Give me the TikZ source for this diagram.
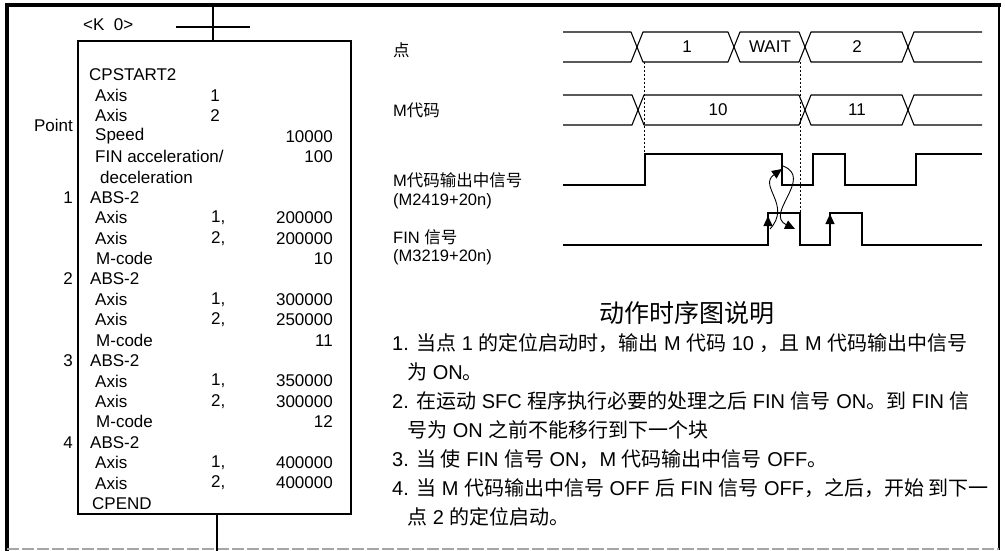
\documentclass[tikz,border=0pt]{standalone}
\usepackage{fontspec}
\setmainfont{Liberation Sans}
\newfontfamily\cjk{Noto Sans CJK SC}
\usetikzlibrary{arrows.meta}
\newcommand\zh[1]{{\cjk #1}}
\begin{document}
\begin{tikzpicture}[x=1pt,y=-1pt,
  prog/.style={anchor=west,inner sep=0pt,font=\fontsize{17}{19}\selectfont},
  progr/.style={anchor=east,inner sep=0pt,font=\fontsize{17}{19}\selectfont},
  progc/.style={anchor=center,inner sep=0pt,font=\fontsize{17}{19}\selectfont},
  lbl/.style={anchor=west,inner sep=0pt,font=\fontsize{16.5}{19}\selectfont},
  wtxt/.style={anchor=center,inner sep=0pt,font=\fontsize{17}{19}\selectfont},
  item/.style={anchor=west,inner sep=0pt,font=\fontsize{20}{24}\selectfont},
  bus/.style={line width=1.1pt,line join=round},
  sig/.style={line width=1.8pt,line join=miter},
  guide/.style={line width=0.6pt,dash pattern=on 2pt off 2pt},
  tri/.style={-{Triangle[length=10pt,width=9pt]}},
  curve/.style={line width=0.9pt,-{Triangle[length=10pt,width=9pt]}}
]
\useasboundingbox (0,0) rectangle (1005,551);
% outer frame
\draw[line width=4pt] (5,5) -- (1001,5);
\draw[line width=4pt] (7,3) -- (7,551);
\draw[line width=1.8pt] (999,4) -- (999,550);
\draw[gray!70,line width=1.5pt,dash pattern=on 12pt off 3pt] (7,549) -- (999,549);
% ladder lines
\draw[line width=1.2pt] (213,5) -- (213,41);
\draw[line width=1.2pt] (176,27) -- (250,27);
\draw[line width=1.2pt] (217,514) -- (217,551);
\node[prog] (k0) at (83,25) {<K\ \ 0>};
% program box
\draw[line width=1.4pt] (78,41) rectangle (351,514);
% program text
\node[prog] (r0) at (89,75) {CPSTART2};
\foreach \i/\x/\t in {1/95/Axis,2/95/Axis,3/95/Speed,5/100/deceleration,
  6/90/ABS-2,7/95/Axis,8/95/Axis,9/96/M-code,
  10/90/ABS-2,11/95/Axis,12/95/Axis,13/96/M-code,
  14/90/ABS-2,15/95/Axis,16/95/Axis,17/96/M-code,
  18/90/ABS-2,19/95/Axis,20/95/Axis,21/92/CPEND}
  \node[prog] (r\i) at (\x,{75+20.4*\i}) {\t};
\node[prog] (r4) at (95,{75+20.4*4}) {FIN acceleration/};
% axis numbers
\node[progc] (a1) at (215,{75+20.4*1}) {1};
\node[progc] (a2) at (215,{75+20.4*2}) {2};
\foreach \i/\t in {7/1,8/2,11/1,12/2,15/1,16/2,19/1,20/2}
  \node[prog] (c\i) at (211,{75+20.4*\i}) {\t,};
% values
\foreach \i/\t in {3/10000,4/100,7/200000,8/200000,9/10,11/300000,12/250000,13/11,
  15/350000,16/300000,17/12,19/400000,20/400000}
  \node[progr] (v\i) at (333,{75+20.4*\i}) {\t};
% point labels
\node[progr] (pt) at (73,125) {Point};
\foreach \i/\t in {6/1,10/2,14/3,18/4}
  \node[progr] (pn\t) at (73,{75+20.4*\i}) {\t};
% signal labels
\node[lbl] (l1) at (393,50) {\zh{点}};
\node[lbl] (l2) at (393,110) {M\zh{代码}};
\node[lbl] (l3) at (393,180) {M\zh{代码输出中信号}};
\node[lbl] (l3b) at (393,201) {(M2419+20n)};
\node[lbl] (l4) at (393,237) {FIN \zh{信号}};
\node[lbl] (l4b) at (393,257) {(M3219+20n)};
% row 1 bus
\draw[bus] (563,32) -- (631,32) -- (643,62) -- (728,62) -- (740,32) -- (799,32) -- (811,62) -- (902,62) -- (914,32) -- (982,32);
\draw[bus] (563,62) -- (631,62) -- (643,32) -- (728,32) -- (740,62) -- (799,62) -- (811,32) -- (902,32) -- (914,62) -- (982,62);
\node[wtxt] (w1) at (687,47) {1};
\node[wtxt] (w2) at (770,47) {WAIT};
\node[wtxt] (w3) at (857,47) {2};
% row 2 bus
\draw[bus] (563,95) -- (632,95) -- (644,125) -- (799,125) -- (811,95) -- (902,95) -- (914,125) -- (982,125);
\draw[bus] (563,125) -- (632,125) -- (644,95) -- (799,95) -- (811,125) -- (902,125) -- (914,95) -- (982,95);
\node[wtxt] (w4) at (718,110) {10};
\node[wtxt] (w5) at (857,110) {11};
% guides
\draw[guide] (644,62) -- (644,154);
\draw[guide] (800,62) -- (800,213);
% row 3 M output
\draw[sig] (563,185) -- (645,185) -- (645,154) -- (782,154) -- (782,185) -- (813,185) -- (813,154) -- (845,154) -- (845,185) -- (916,185) -- (916,154) -- (982,154);
% row 4 FIN
\draw[sig] (563,245) -- (768,245) -- (768,213) -- (800,213) -- (800,245) -- (830,245) -- (830,213) -- (862,213) -- (862,245) -- (982,245);
% arrows on FIN rising edges
\coordinate (f1a) at (768,238);
\coordinate (f1b) at (768,216);
\coordinate (f2a) at (830,236);
\coordinate (f2b) at (830,214);
\draw[tri,line width=1.2pt] (f1a) -- (f1b);
\draw[tri,line width=1.2pt] (f2a) -- (f2b);
% crossing handshake curves
\coordinate (ca0) at (770,229);
\coordinate (ca1) at (782,169);
\coordinate (cb0) at (783,166);
\coordinate (cb1) at (795,229);
\draw[curve] (ca0) .. controls (792,205) and (758,186) .. (ca1);
\draw[curve] (cb0) .. controls (814,178) and (764,214) .. (cb1);
% explanation
\node[anchor=center,inner sep=0pt,font=\fontsize{25}{28}\selectfont\cjk] (title) at (687,313) {动作时序图说明};
\node[item] (t1) at (392,343) {1. \zh{当点} 1 \zh{的定位启动时，输出} M \zh{代码} 10 \zh{，且} M \zh{代码输出中信号}};
\node[item] (t2) at (407,372) {\zh{为} ON\zh{。}};
\node[item] (t3) at (392,401) {2. \zh{在运动} SFC \zh{程序执行必要的处理之后} FIN \zh{信号} ON\zh{。到} FIN \zh{信}};
\node[item] (t4) at (407,430) {\zh{号为} ON \zh{之前不能移行到下一个块}};
\node[item] (t5) at (392,459) {3. \zh{当 使} FIN \zh{信号} ON\zh{，}M \zh{代码输出中信号} OFF\zh{。}};
\node[item] (t6) at (392,488) {4. \zh{当} M \zh{代码输出中信号} OFF \zh{后} FIN \zh{信号} OFF\zh{，之后，开始 到下一}};
\node[item] (t7) at (407,517) {\zh{点} 2 \zh{的定位启动。}};
\end{tikzpicture}
\end{document}
